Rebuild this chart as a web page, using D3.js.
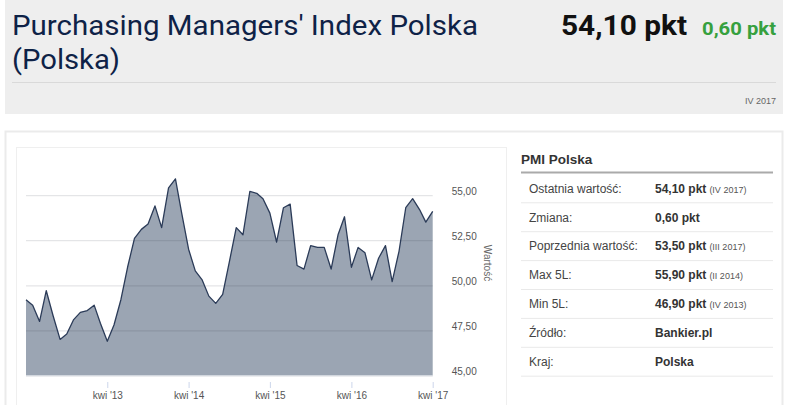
<!DOCTYPE html>
<html>
<head lang="pl">
  <meta charset="UTF-8">
  <title>PMI Polska</title>
  <script src="https://cdn.jsdelivr.net/npm/d3@7"></script>
  <style>
    body { margin: 0; background: #fff; }
    svg { display: block; }
  </style>
</head>
<body>
  <div id="chart"></div>
  <script type="text/javascript">
    // PMI Polska, monthly, IV 2012 - IV 2017
    var startMonth = new Date(2012, 3, 1);
    var endMonth = new Date(2017, 3, 1);
    var pmiValues = [49.2, 48.9, 48.0, 49.7, 48.3, 47.0, 47.3, 48.1, 48.5, 48.6,
                     48.9, 47.9, 46.9, 47.8, 49.2, 51.0, 52.6, 53.1, 53.4, 54.4,
                     53.2, 55.4, 55.9, 54.0, 52.0, 50.8, 50.3, 49.4, 49.0, 49.5,
                     51.3, 53.2, 52.8, 55.2, 55.1, 54.8, 54.0, 52.4, 54.3, 54.5,
                     51.1, 50.9, 52.2, 52.1, 52.1, 50.9, 52.8, 53.8, 51.0, 52.1,
                     51.8, 50.3, 51.5, 52.2, 50.2, 51.9, 54.3, 54.8, 54.2, 53.5,
                     54.1];
    var yTicks = [45, 47.5, 50, 52.5, 55];
    var xTickYears = [2013, 2014, 2015, 2016, 2017];

    var tableLabels = ['Ostatnia wartość:', 'Zmiana:', 'Poprzednia wartość:', 'Max 5L:', 'Min 5L:', 'Źródło:', 'Kraj:'];
    var tableValues = ['54,10 pkt', '0,60 pkt', '53,50 pkt', '55,90 pkt', '46,90 pkt', 'Bankier.pl', 'Polska'];
    var tableNotes = ['(IV 2017)', '', '(III 2017)', '(II 2014)', '(IV 2013)', '', ''];

    var data = pmiValues.map(function (v, i) {
      return { date: d3.timeMonth.offset(startMonth, i), value: v };
    });

    var W = 786, H = 405;
    var svg = d3.select('#chart').append('svg')
        .attr('width', W)
        .attr('height', H);

    // header
    svg.append('rect').attr('x', 5).attr('y', 0).attr('width', 778).attr('height', 114).attr('fill', '#eeeeee');
    svg.append('line').attr('x1', 12).attr('x2', 776).attr('y1', 82.5).attr('y2', 82.5)
        .attr('stroke', '#d9d9d9').attr('stroke-width', 1);

    var titleFont = 'Roboto, "Open Sans", sans-serif';
    svg.append('text').attr('x', 12).attr('y', 34.5)
        .attr('font-family', titleFont).attr('font-size', 27).attr('fill', '#0e2247')
        .attr('textLength', 466).attr('lengthAdjust', 'spacingAndGlyphs')
        .text("Purchasing Managers' Index Polska");
    svg.append('text').attr('x', 12).attr('y', 68.5)
        .attr('font-family', titleFont).attr('font-size', 27).attr('fill', '#0e2247')
        .attr('textLength', 108).attr('lengthAdjust', 'spacingAndGlyphs')
        .text('(Polska)');
    svg.append('text').attr('x', 561).attr('y', 34.5)
        .attr('font-family', titleFont).attr('font-size', 27).attr('font-weight', 'bold').attr('fill', '#111')
        .attr('textLength', 126).attr('lengthAdjust', 'spacingAndGlyphs')
        .text('54,10 pkt');
    svg.append('text').attr('x', 702).attr('y', 34.5)
        .attr('font-family', titleFont).attr('font-size', 18).attr('font-weight', 'bold').attr('fill', '#36a03e')
        .attr('textLength', 74).attr('lengthAdjust', 'spacingAndGlyphs')
        .text('0,60 pkt');
    svg.append('text').attr('x', 776).attr('y', 104)
        .attr('text-anchor', 'end')
        .attr('font-family', 'Liberation Sans, Arial, sans-serif').attr('font-size', 9).attr('fill', '#666')
        .text('IV 2017');

    // card + chart frame
    svg.append('rect').attr('x', 5.5).attr('y', 131.5).attr('width', 777).attr('height', 300)
        .attr('fill', '#fff').attr('stroke', '#ebebeb').attr('stroke-width', 2);
    svg.append('rect').attr('x', 16.5).attr('y', 147.5).attr('width', 490).attr('height', 300)
        .attr('fill', '#fff').attr('stroke', '#efefef').attr('stroke-width', 1);

    // chart
    var plot = { left: 26, right: 432.7, top: 150, bottom: 375.5 };
    var x = d3.scaleTime().domain([startMonth, endMonth]).range([plot.left, plot.right]);
    var y = d3.scaleLinear().domain([45, 57.5]).range([plot.bottom, plot.top]);
    var fmt = function (v) { return d3.format('.2f')(v).replace('.', ','); };
    var font = 'Liberation Sans, Arial, sans-serif';

    var area = d3.area()
        .x(function (d) { return x(d.date); })
        .y0(y(45))
        .y1(function (d) { return y(d.value); });
    var line = d3.line()
        .x(function (d) { return x(d.date); })
        .y(function (d) { return y(d.value); });

    svg.append('path').datum(data)
        .attr('d', area)
        .attr('fill', '#9ba5b3');

    // grid lines on top of the area
    var grid = svg.append('g')
        .attr('transform', 'translate(' + plot.left + ',0)')
        .call(d3.axisLeft(y).tickValues(yTicks).tickSize(-(plot.right - plot.left)).tickFormat(''));
    grid.select('.domain').remove();
    grid.selectAll('line').attr('stroke', 'rgba(30,40,60,0.12)').attr('stroke-width', 1.2);

    svg.append('path').datum(data)
        .attr('d', line)
        .attr('fill', 'none')
        .attr('stroke', '#2b3b58')
        .attr('stroke-width', 1.3)
        .attr('stroke-linejoin', 'round');

    // y axis on the right
    var yAxis = svg.append('g')
        .attr('transform', 'translate(' + plot.right + ',0)')
        .call(d3.axisRight(y).tickValues(yTicks).tickSize(0).tickPadding(19).tickFormat(fmt));
    yAxis.select('.domain').remove();
    yAxis.selectAll('text')
        .attr('dy', '-0.1em')
        .attr('font-family', font).attr('font-size', 10).attr('fill', '#555');

    svg.append('text')
        .attr('transform', 'translate(487,263) rotate(90)')
        .attr('text-anchor', 'middle')
        .attr('dominant-baseline', 'central')
        .attr('font-family', font).attr('font-size', 10).attr('fill', '#666')
        .text('Wartość');

    // x axis
    svg.append('line').attr('x1', plot.left).attr('x2', plot.right)
        .attr('y1', plot.bottom + 0.5).attr('y2', plot.bottom + 0.5)
        .attr('stroke', '#e3e6ec');
    var xAxis = svg.append('g')
        .attr('transform', 'translate(0,382)')
        .call(d3.axisBottom(x)
            .tickValues(xTickYears.map(function (yr) { return new Date(yr, 3, 1); }))
            .tickSize(6).tickPadding(4)
            .tickFormat(function (d) { return "kwi '" + String(d.getFullYear()).slice(2); }));
    xAxis.select('.domain').remove();
    xAxis.selectAll('line').attr('stroke', '#ccd6eb');
    xAxis.selectAll('text').attr('font-family', font).attr('font-size', 10).attr('fill', '#555');

    // table
    svg.append('text').attr('x', 521).attr('y', 163.5)
        .attr('font-family', font).attr('font-size', 13.5).attr('font-weight', 'bold').attr('fill', '#333')
        .text('PMI Polska');
    svg.append('line').attr('x1', 521).attr('x2', 773).attr('y1', 172.5).attr('y2', 172.5)
        .attr('stroke', '#aaa').attr('stroke-width', 2);

    var rowH = 28.9, firstRow = 188.3;
    var rows = svg.append('g').selectAll('g')
        .data(tableLabels)
        .enter().append('g')
        .attr('transform', function (d, i) { return 'translate(0,' + (firstRow + i * rowH) + ')'; });
    rows.append('line')
        .attr('x1', 521).attr('x2', 773).attr('y1', 14.5).attr('y2', 14.5)
        .attr('stroke', '#e9e9e9');
    rows.append('text')
        .attr('x', 529).attr('y', 4.3)
        .attr('font-family', font).attr('font-size', 12).attr('fill', '#444')
        .text(function (d) { return d; });
    var vt = rows.append('text')
        .attr('x', 655).attr('y', 4.3)
        .attr('font-family', font).attr('fill', '#333');
    vt.append('tspan')
        .attr('font-size', 12).attr('font-weight', 'bold')
        .text(function (d, i) { return tableValues[i]; });
    vt.append('tspan')
        .attr('dx', 3).attr('font-size', 9).attr('fill', '#555')
        .text(function (d, i) { return tableNotes[i]; });
  </script>
</body>
</html>
